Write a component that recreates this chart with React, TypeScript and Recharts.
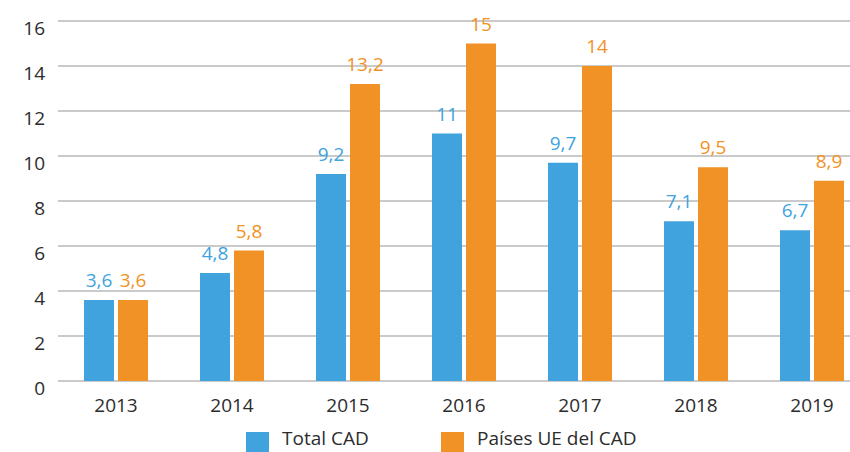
import React from "react";
import { BarChart, Bar, XAxis, YAxis, CartesianGrid, Legend, LabelList } from "recharts";

const years = ["2013", "2014", "2015", "2016", "2017", "2018", "2019"];
const totalCAD = [3.6, 4.8, 9.2, 11, 9.7, 7.1, 6.7];
const paisesUE = [3.6, 5.8, 13.2, 15, 14, 9.5, 8.9];
const yTicks = [0, 2, 4, 6, 8, 10, 12, 14, 16];
const seriesNames = ["Total CAD", "Países UE del CAD"];

const BLUE = "#41a3dd";
const ORANGE = "#f19226";
const TEXT = "#2c2c2c";
const FONT = "'Open Sans', 'Noto Sans', sans-serif";
const FS = 19;

const data = years.map((y, i) => ({ year: y, total: totalCAD[i], ue: paisesUE[i] }));

const fmt = (v: any) => String(v).replace(".", ",");

const YTick = (props: any) => {
  const { x, y, payload } = props;
  return (
    <text x={x} y={y + 13.5} textAnchor="end" fill={TEXT} fontSize={FS} fontFamily={FONT}>
      {payload.value}
    </text>
  );
};

const XTick = (props: any) => {
  const { x, y, payload } = props;
  return (
    <text x={x} y={y + 31} textAnchor="middle" fill={TEXT} fontSize={FS} fontFamily={FONT}>
      {payload.value}
    </text>
  );
};

const LegendContent = () => (
  <div style={{ position: "relative", height: 36, fontFamily: FONT, fontSize: FS, color: TEXT }}>
    <span style={{ position: "absolute", left: 246, top: 16, width: 23, height: 20, background: BLUE }} />
    <span style={{ position: "absolute", left: 282, top: 9, height: 26, lineHeight: "26px", whiteSpace: "nowrap" }}>{seriesNames[0]}</span>
    <span style={{ position: "absolute", left: 441, top: 16, width: 23, height: 20, background: ORANGE }} />
    <span style={{ position: "absolute", left: 477, top: 9, height: 26, lineHeight: "26px", whiteSpace: "nowrap" }}>{seriesNames[1]}</span>
  </div>
);

export default function App() {
  return (
    <div style={{ position: "absolute", left: 0, top: 0, width: 850, height: 452, overflow: "hidden", background: "#fff" }}>
      <BarChart
        width={870}
        height={452}
        data={data}
        margin={{ top: 21, right: 0, left: 0, bottom: 0 }}
        barGap={4}
        barSize={30}
      >
        <CartesianGrid vertical={false} stroke="#b8b8b8" strokeWidth={1.5} />
        <XAxis
          dataKey="year"
          axisLine={false}
          tickLine={false}
          tickSize={0}
          tickMargin={0}
          height={35}
          tick={<XTick />}
        />
        <YAxis
          domain={[0, 16]}
          ticks={yTicks}
          axisLine={false}
          tickLine={false}
          tickSize={0}
          tickMargin={13}
          width={58}
          tick={<YTick />}
        />
        <Legend verticalAlign="bottom" align="left" height={36} wrapperStyle={{ left: 0, width: 850, height: 36 }} content={<LegendContent />} />
        <Bar dataKey="total" name={seriesNames[0]} fill={BLUE} isAnimationActive={false}>
          <LabelList dataKey="total" position="top" offset={13} formatter={fmt} style={{ fill: BLUE, fontSize: FS, fontFamily: FONT }} />
        </Bar>
        <Bar dataKey="ue" name={seriesNames[1]} fill={ORANGE} isAnimationActive={false}>
          <LabelList dataKey="ue" position="top" offset={13} formatter={fmt} style={{ fill: ORANGE, fontSize: FS, fontFamily: FONT }} />
        </Bar>
      </BarChart>
    </div>
  );
}
